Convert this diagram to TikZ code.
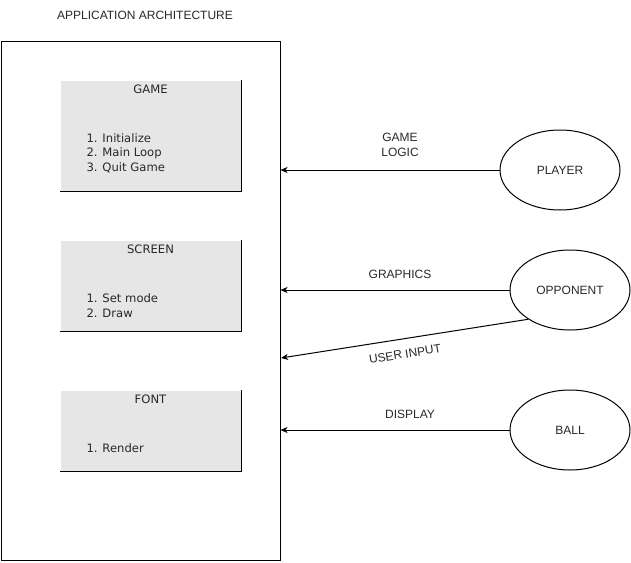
\documentclass[tikz,border=0pt]{standalone}
\usepackage{fontspec}
\setmainfont{Liberation Sans}
\newfontfamily\partfont{DejaVu Sans}
\usetikzlibrary{positioning,shapes.geometric,arrows.meta}
\definecolor{partgray}{RGB}{230, 230, 230}
\definecolor{labelgray}{RGB}{40, 40, 40}

\begin{document}
\begin{tikzpicture}[x=1pt, y=-1pt, line width=1pt, >={Stealth[length=7pt, width=6pt, inset=2pt]},
  every node/.style={font=\fontsize{12}{14.5}\selectfont, text=labelgray},
  part/.style={fill=partgray, minimum width=180pt, anchor=north west, inner sep=0pt},
  parttitle/.style={inner sep=0pt, font=\partfont\fontsize{11.6}{14.5}\selectfont},
  partlist/.style={inner sep=0pt, anchor=west, align=left, font=\partfont\fontsize{11.6}{14.5}\selectfont},
  actor/.style={draw, ellipse, minimum width=120pt, minimum height=80pt, inner sep=0pt}]
\useasboundingbox (0,0) rectangle (631,562);

% Application frame
\node (title) at (145,15) {APPLICATION ARCHITECTURE};
\node[draw, minimum width=279pt, minimum height=519pt, anchor=north west, inner sep=0pt] (app) at (0.5,40.5) {};

% Parts of the application
\node[part, minimum height=110pt] (game) at (60,80) {};
\node[part, minimum height=90pt] (screen) at (60,240) {};
\node[part, minimum height=80pt] (fontpart) at (60,390) {};
\foreach \p in {game,screen,fontpart}
  \draw (\p.north east) -- (\p.south east) -- (\p.south west);

\node[parttitle, below=4pt of game.north] (gametitle) {GAME};
\node[partlist] (gamelist) at (86,153) {1. Initialize\\2. Main Loop\\3. Quit Game};
\node[parttitle, below=4pt of screen.north] (screentitle) {SCREEN};
\node[partlist] (screenlist) at (86,305.5) {1. Set mode\\2. Draw};
\node[parttitle, below=4pt of fontpart.north] (fonttitle) {FONT};
\node[partlist] (fontlist) at (86,448) {1. Render};

% Actors
\node[actor] (player) at (560,170) {PLAYER};
\node[actor] (opponent) at (570,290) {OPPONENT};
\node[actor] (ball) at (570,430) {BALL};
\coordinate (uiend) at (281,358);

% Arrows
\draw[->] (player) -- (player -| app.east);
\draw[->] (opponent) -- (opponent -| app.east);
\draw[->] (opponent.215) -- (uiend);
\draw[->] (ball) -- (ball -| app.east);

% Labels
\node[align=center] (logic) at (400,145) {GAME\\LOGIC};
\node (graphics) at (400,274) {GRAPHICS};
\node[rotate=9] (input) at (405,354) {USER INPUT};
\node (display) at (410,414) {DISPLAY};
\end{tikzpicture}
\end{document}
